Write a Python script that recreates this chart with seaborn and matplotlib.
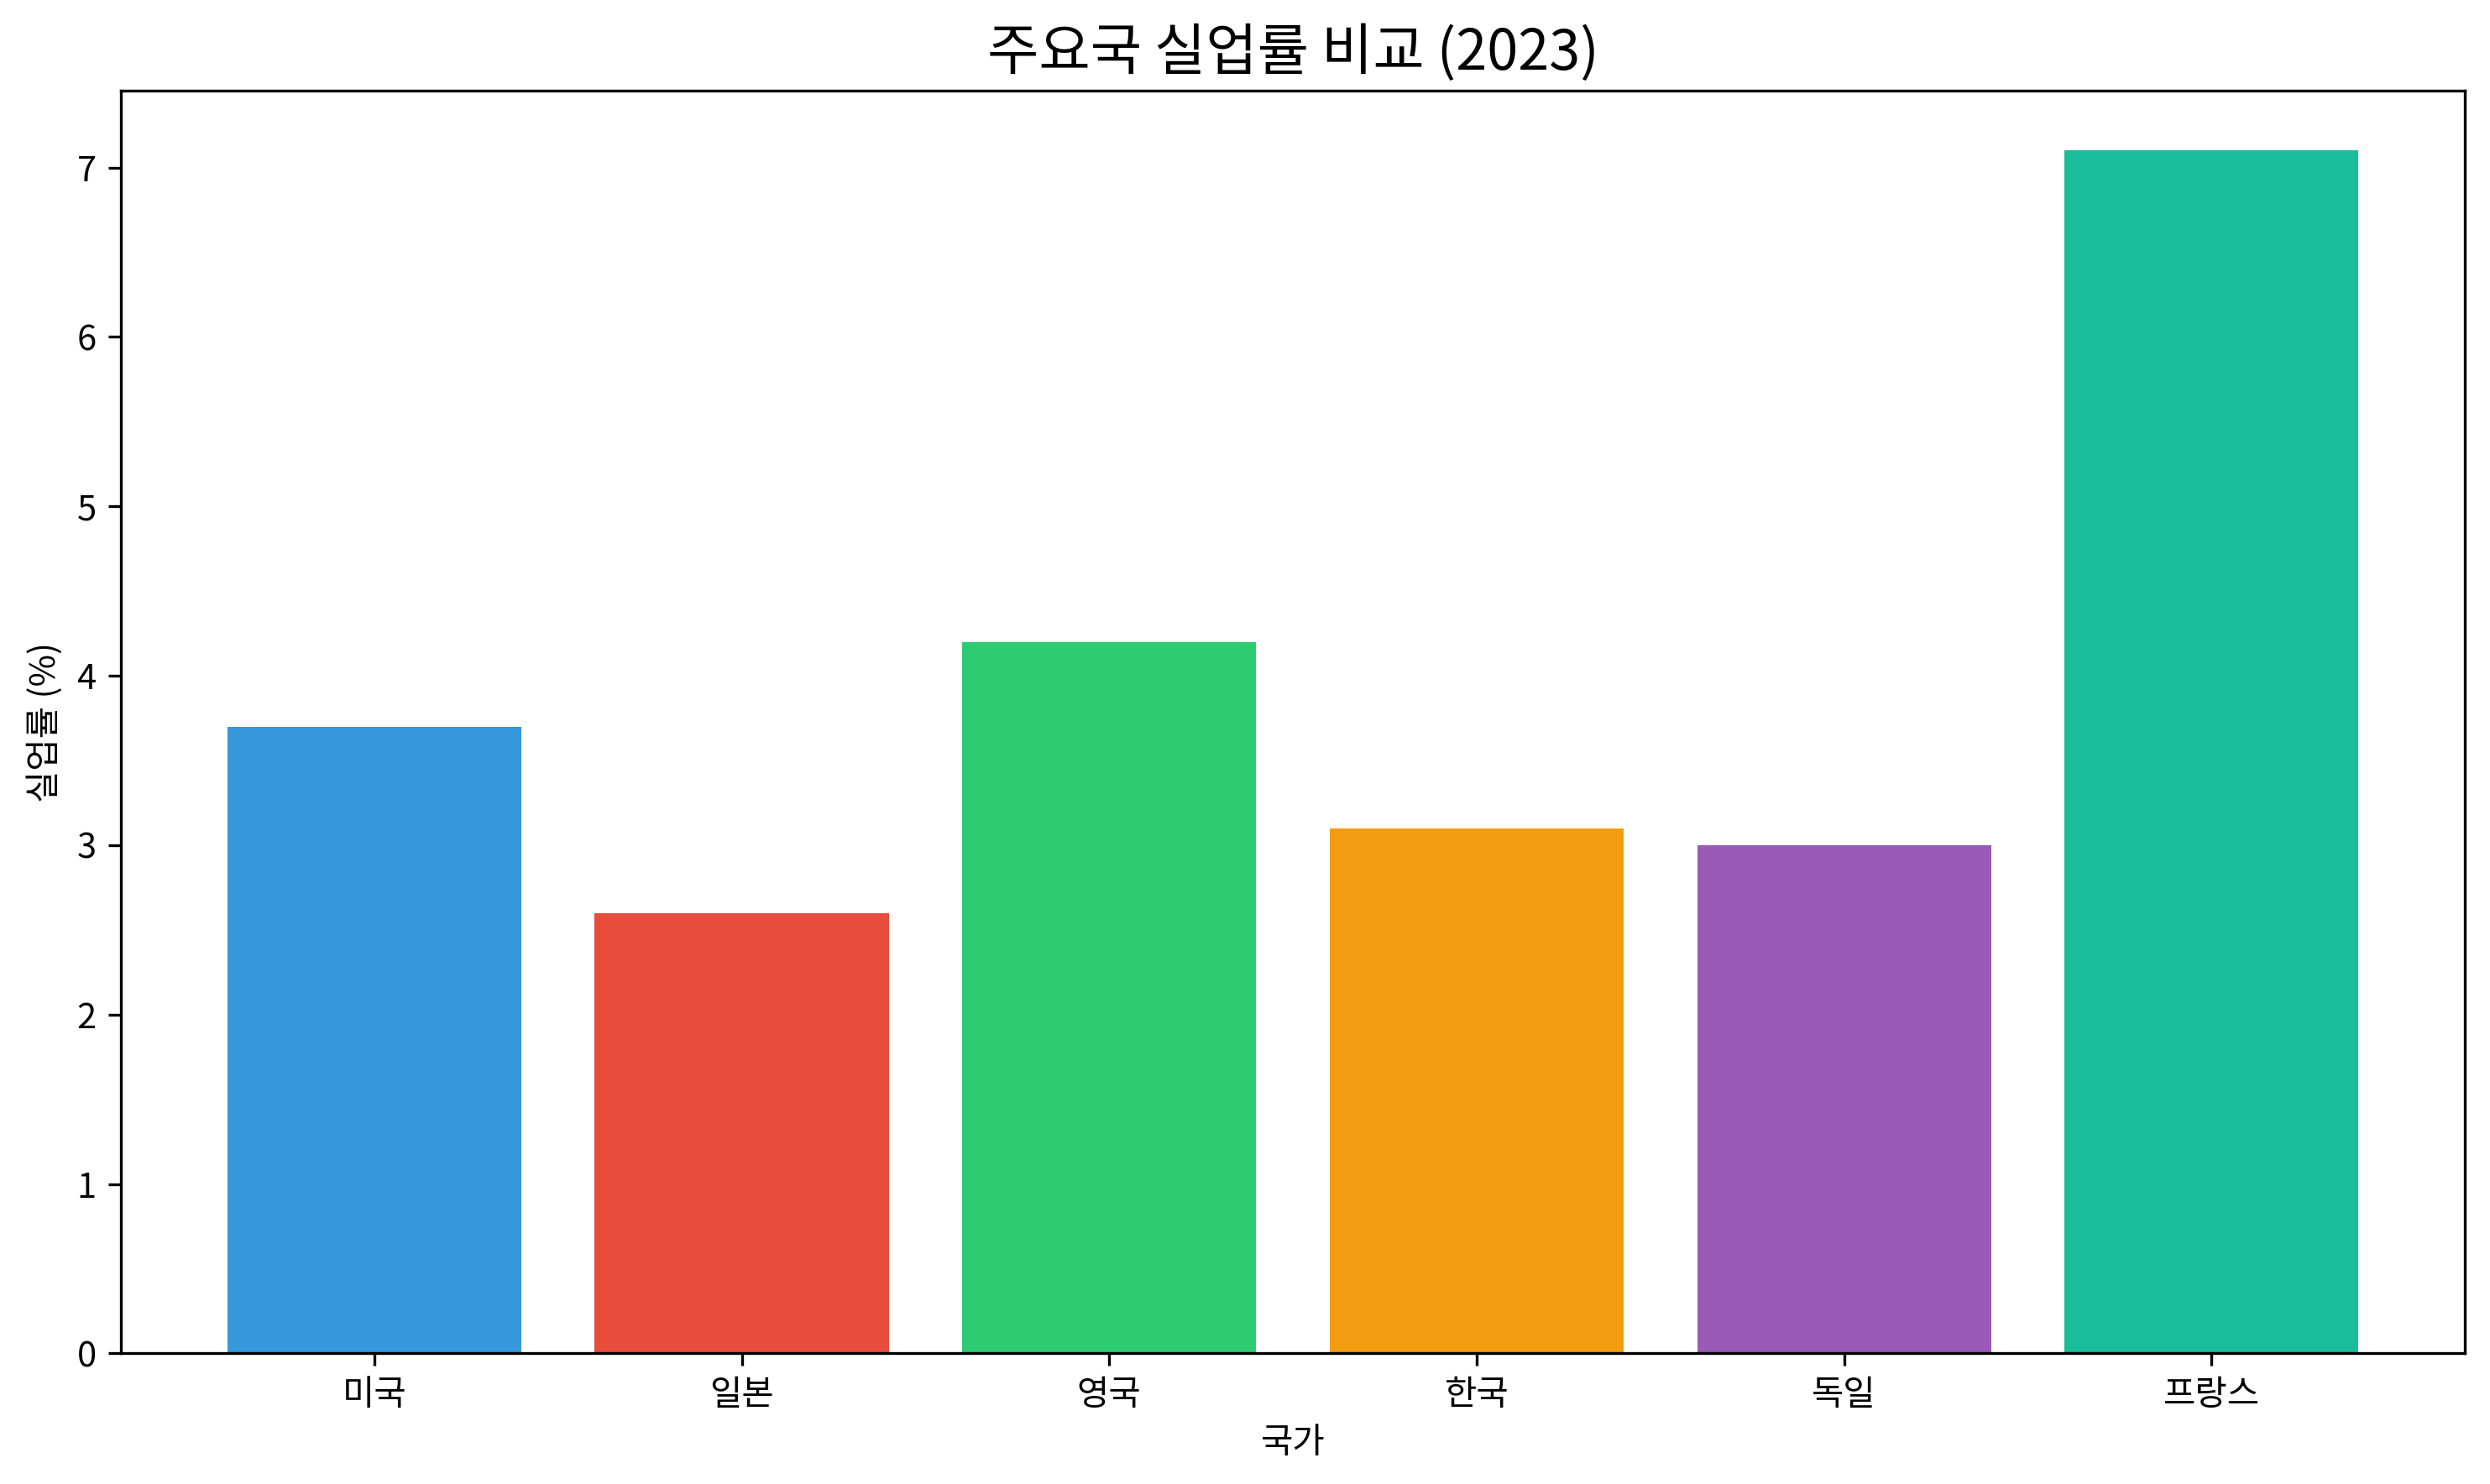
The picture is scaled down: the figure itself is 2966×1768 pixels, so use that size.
import matplotlib
matplotlib.use("Agg")
import matplotlib.pyplot as plt
import seaborn as sns
import pandas as pd

plt.rcParams['font.family'] = ['Noto Sans CJK KR', 'DejaVu Sans']
plt.rcParams['axes.unicode_minus'] = False

# 데이터
countries = ['미국', '일본', '영국', '한국', '독일', '프랑스']
rates = [3.7, 2.6, 4.2, 3.1, 3.0, 7.1]
colors = ['#3498db', '#e74c3c', '#2ecc71', '#f39c12', '#9b59b6', '#1abc9c']

df = pd.DataFrame({'국가': countries, '실업률': rates})

fig, ax = plt.subplots(figsize=(2966 / 300, 1768 / 300), dpi=300)
sns.barplot(data=df, x='국가', y='실업률', hue='국가', palette=colors,
            order=countries, hue_order=countries, saturation=1,
            width=0.8, legend=False, ax=ax)

ax.set_xlim(-0.69, 5.69)
ax.set_ylim(0, max(rates) * 1.05)
ax.set_title('주요국 실업률 비교 (2023)', fontsize=16)
ax.set_xlabel('국가', fontsize=10)
ax.set_ylabel('실업률 (%)', fontsize=10)
ax.tick_params(labelsize=10)

fig.subplots_adjust(left=0.0485, right=0.990, top=0.939, bottom=0.088)
fig.savefig('out.png', dpi=300)
